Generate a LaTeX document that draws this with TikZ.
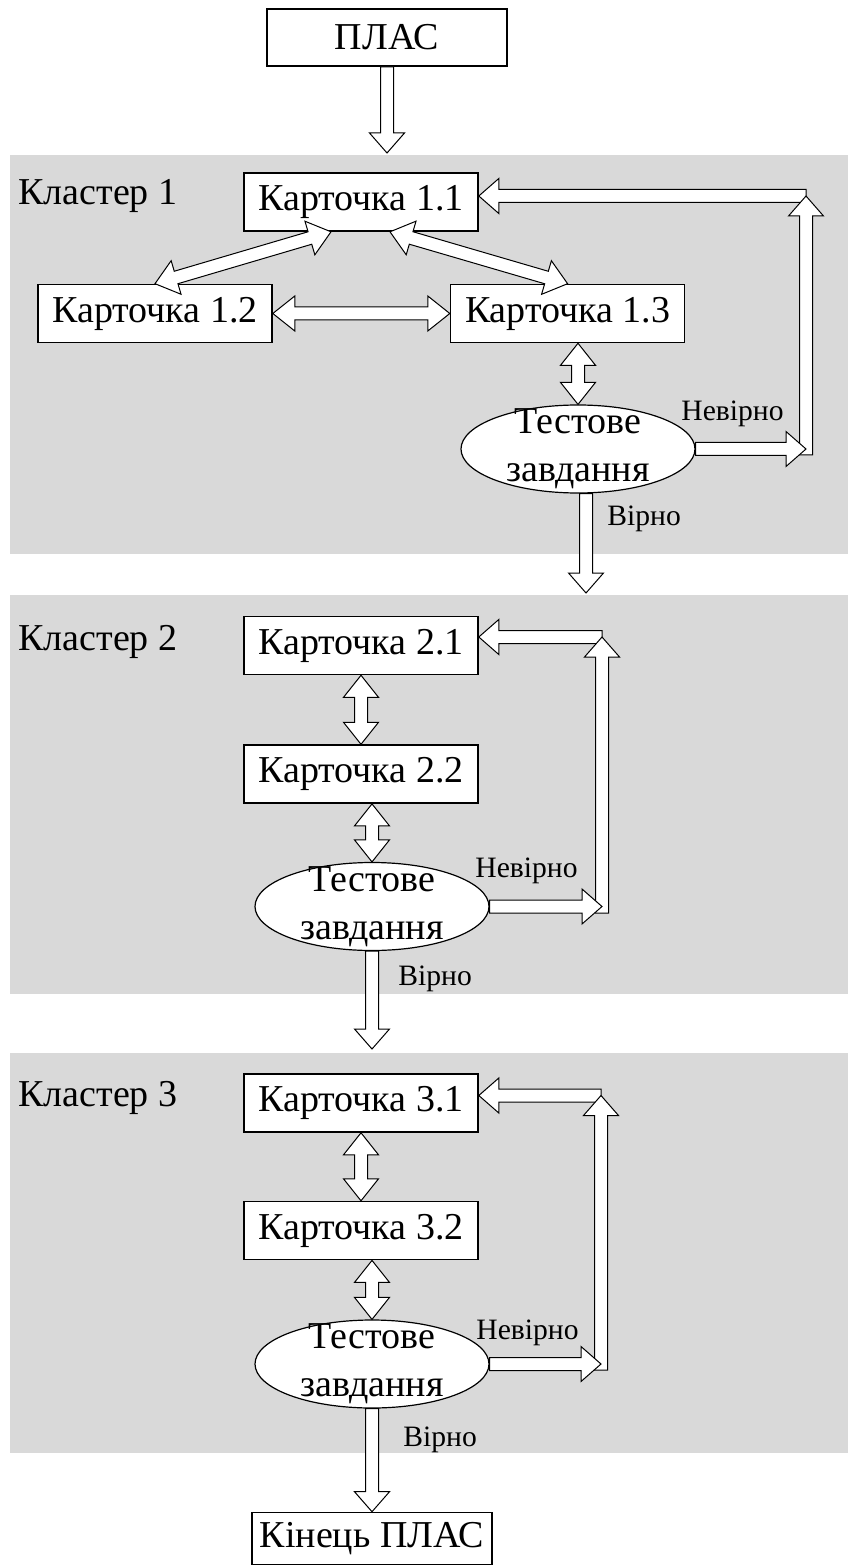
\documentclass[tikz,border=0pt]{standalone}
\usepackage{fontspec}
\setmainfont{Liberation Serif}
\usetikzlibrary{shapes.geometric, positioning, calc}

\definecolor{bandgray}{RGB}{217,217,217}
\newcommand{\cardfont}{\fontsize{19pt}{24pt}\selectfont}
\newcommand{\lblfont}{\fontsize{14.8pt}{17pt}\selectfont}

% hollow block arrow, tip at #2
\newcommand{\blockarrow}[2]{%
  \coordinate (ba-h) at ($#2!10pt!#1$);
  \draw[blockarr] ($#1!3.25pt!90:#2$) -- ($(ba-h)!3.25pt!-90:#1$)
    -- ($(ba-h)!8.75pt!-90:#1$) -- #2 -- ($(ba-h)!8.75pt!90:#1$)
    -- ($(ba-h)!3.25pt!90:#1$) -- ($#1!3.25pt!-90:#2$) -- cycle;}

% hollow block arrow with a tip at both ends
\newcommand{\dblockarrow}[2]{%
  \coordinate (ba-h) at ($#2!11pt!#1$);
  \coordinate (ba-t) at ($#1!11pt!#2$);
  \draw[blockarr] #1 -- ($(ba-t)!8.75pt!90:#2$) -- ($(ba-t)!3.25pt!90:#2$)
    -- ($(ba-h)!3.25pt!-90:#1$) -- ($(ba-h)!8.75pt!-90:#1$) -- #2
    -- ($(ba-h)!8.75pt!90:#1$) -- ($(ba-h)!3.25pt!90:#1$)
    -- ($(ba-t)!3.25pt!-90:#2$) -- ($(ba-t)!8.75pt!-90:#2$) -- cycle;}

\begin{document}
\begin{tikzpicture}[
    x=0.5pt, y=-0.5pt,
    card/.style={rectangle, draw, fill=white, line width=0.8pt, minimum width=117pt, minimum height=29pt, inner sep=0pt, font=\cardfont},
    endbox/.style={card, minimum width=120pt},
    testnode/.style={ellipse, draw, fill=white, line width=0.6pt, minimum width=117pt, minimum height=44pt, inner sep=0pt},
    blockarr/.style={draw, fill=white, line width=0.5pt, line join=miter},
    band/.style={fill=bandgray},
    clabel/.style={anchor=base west, inner sep=0pt, font=\cardfont},
    answer/.style={anchor=base west, inner sep=0pt, font=\lblfont}
]
    \useasboundingbox (0,0) rectangle (848,1566);

    % cluster backgrounds
    \fill[band] (10,155) rectangle (848,554);
    \fill[band] (10,595) rectangle (848,994);
    \fill[band] (10,1053) rectangle (848,1453);

    \node[endbox, minimum height=28.5pt] (plas) at (387,37.5) {ПЛАС};

    % cluster 1
    \node[clabel] (cl1) at (18,205) {Кластер 1};
    \node[card] (k11) at (361,202) {Карточка 1.1};
    \node[card] (k12) at (155,313.5) {Карточка 1.2};
    \node[card, right=88.5pt of k12] (k13) {Карточка 1.3};
    \node[testnode, label={[align=center, font=\cardfont]center:Тестове\\завдання}] (e1) at (578,449) {};
    \node[answer] (nev1) at (681,421) {Невірно};
    \node[answer] (vir1) at (607,525) {Вірно};

    \coordinate (in1) at (387,153);
    \blockarrow{(plas.south)}{(in1)}
    \dblockarrow{([xshift=-15pt]k11.south)}{(k12.north)}
    \dblockarrow{([xshift=14.5pt]k11.south)}{(k13.north)}
    \dblockarrow{(k12.east)}{(k13.west)}
    \dblockarrow{(e1.north |- k13.south)}{(e1.north)}
    \coordinate (fb1) at (806,196);
    \coordinate (fb1b) at (806,455);
    \blockarrow{(fb1)}{(k11.east |- fb1)}
    \blockarrow{(fb1b)}{(fb1)}
    \blockarrow{(e1.east)}{(e1.east -| fb1)}
    \coordinate (in2) at (586,593);
    \blockarrow{([xshift=4pt]e1.south)}{(in2)}

    % cluster 2
    \node[clabel] (cl2) at (18,650) {Кластер 2};
    \node[card] (k21) at (361,645.5) {Карточка 2.1};
    \node[card, below=34.5pt of k21] (k22) {Карточка 2.2};
    \node[testnode, label={[align=center, font=\cardfont]center:Тестове\\завдання}] (e2) at (372,906.5) {};
    \node[answer] (nev2) at (475,877) {Невірно};
    \node[answer] (vir2) at (398,985) {Вірно};

    \dblockarrow{(k21.south)}{(k22.north)}
    \dblockarrow{(e2.north |- k22.south)}{(e2.north)}
    \coordinate (fb2) at (602,637);
    \coordinate (fb2b) at (602,913);
    \blockarrow{(fb2)}{(k21.east |- fb2)}
    \blockarrow{(fb2b)}{(fb2)}
    \blockarrow{(e2.east)}{(e2.east -| fb2)}
    \coordinate (in3) at (372,1049);
    \blockarrow{(e2.south)}{(in3)}

    % cluster 3
    \node[clabel] (cl3) at (18,1106) {Кластер 3};
    \node[card] (k31) at (361,1103) {Карточка 3.1};
    \node[card, below=34pt of k31] (k32) {Карточка 3.2};
    \node[testnode, label={[align=center, font=\cardfont]center:Тестове\\завдання}] (e3) at (372,1364) {};
    \node[answer] (nev3) at (476,1339) {Невірно};
    \node[answer] (vir3) at (403,1446) {Вірно};

    \dblockarrow{(k31.south)}{(k32.north)}
    \dblockarrow{(e3.north |- k32.south)}{(e3.north)}
    \coordinate (fb3) at (601,1095.5);
    \coordinate (fb3b) at (601,1370);
    \blockarrow{(fb3)}{(k31.east |- fb3)}
    \blockarrow{(fb3b)}{(fb3)}
    \blockarrow{(e3.east)}{(e3.east -| fb3)}

    \node[endbox, minimum height=26pt] (kinets) at (372,1538.5) {Кінець ПЛАС};
    \blockarrow{(e3.south)}{(kinets.north)}
\end{tikzpicture}
\end{document}
